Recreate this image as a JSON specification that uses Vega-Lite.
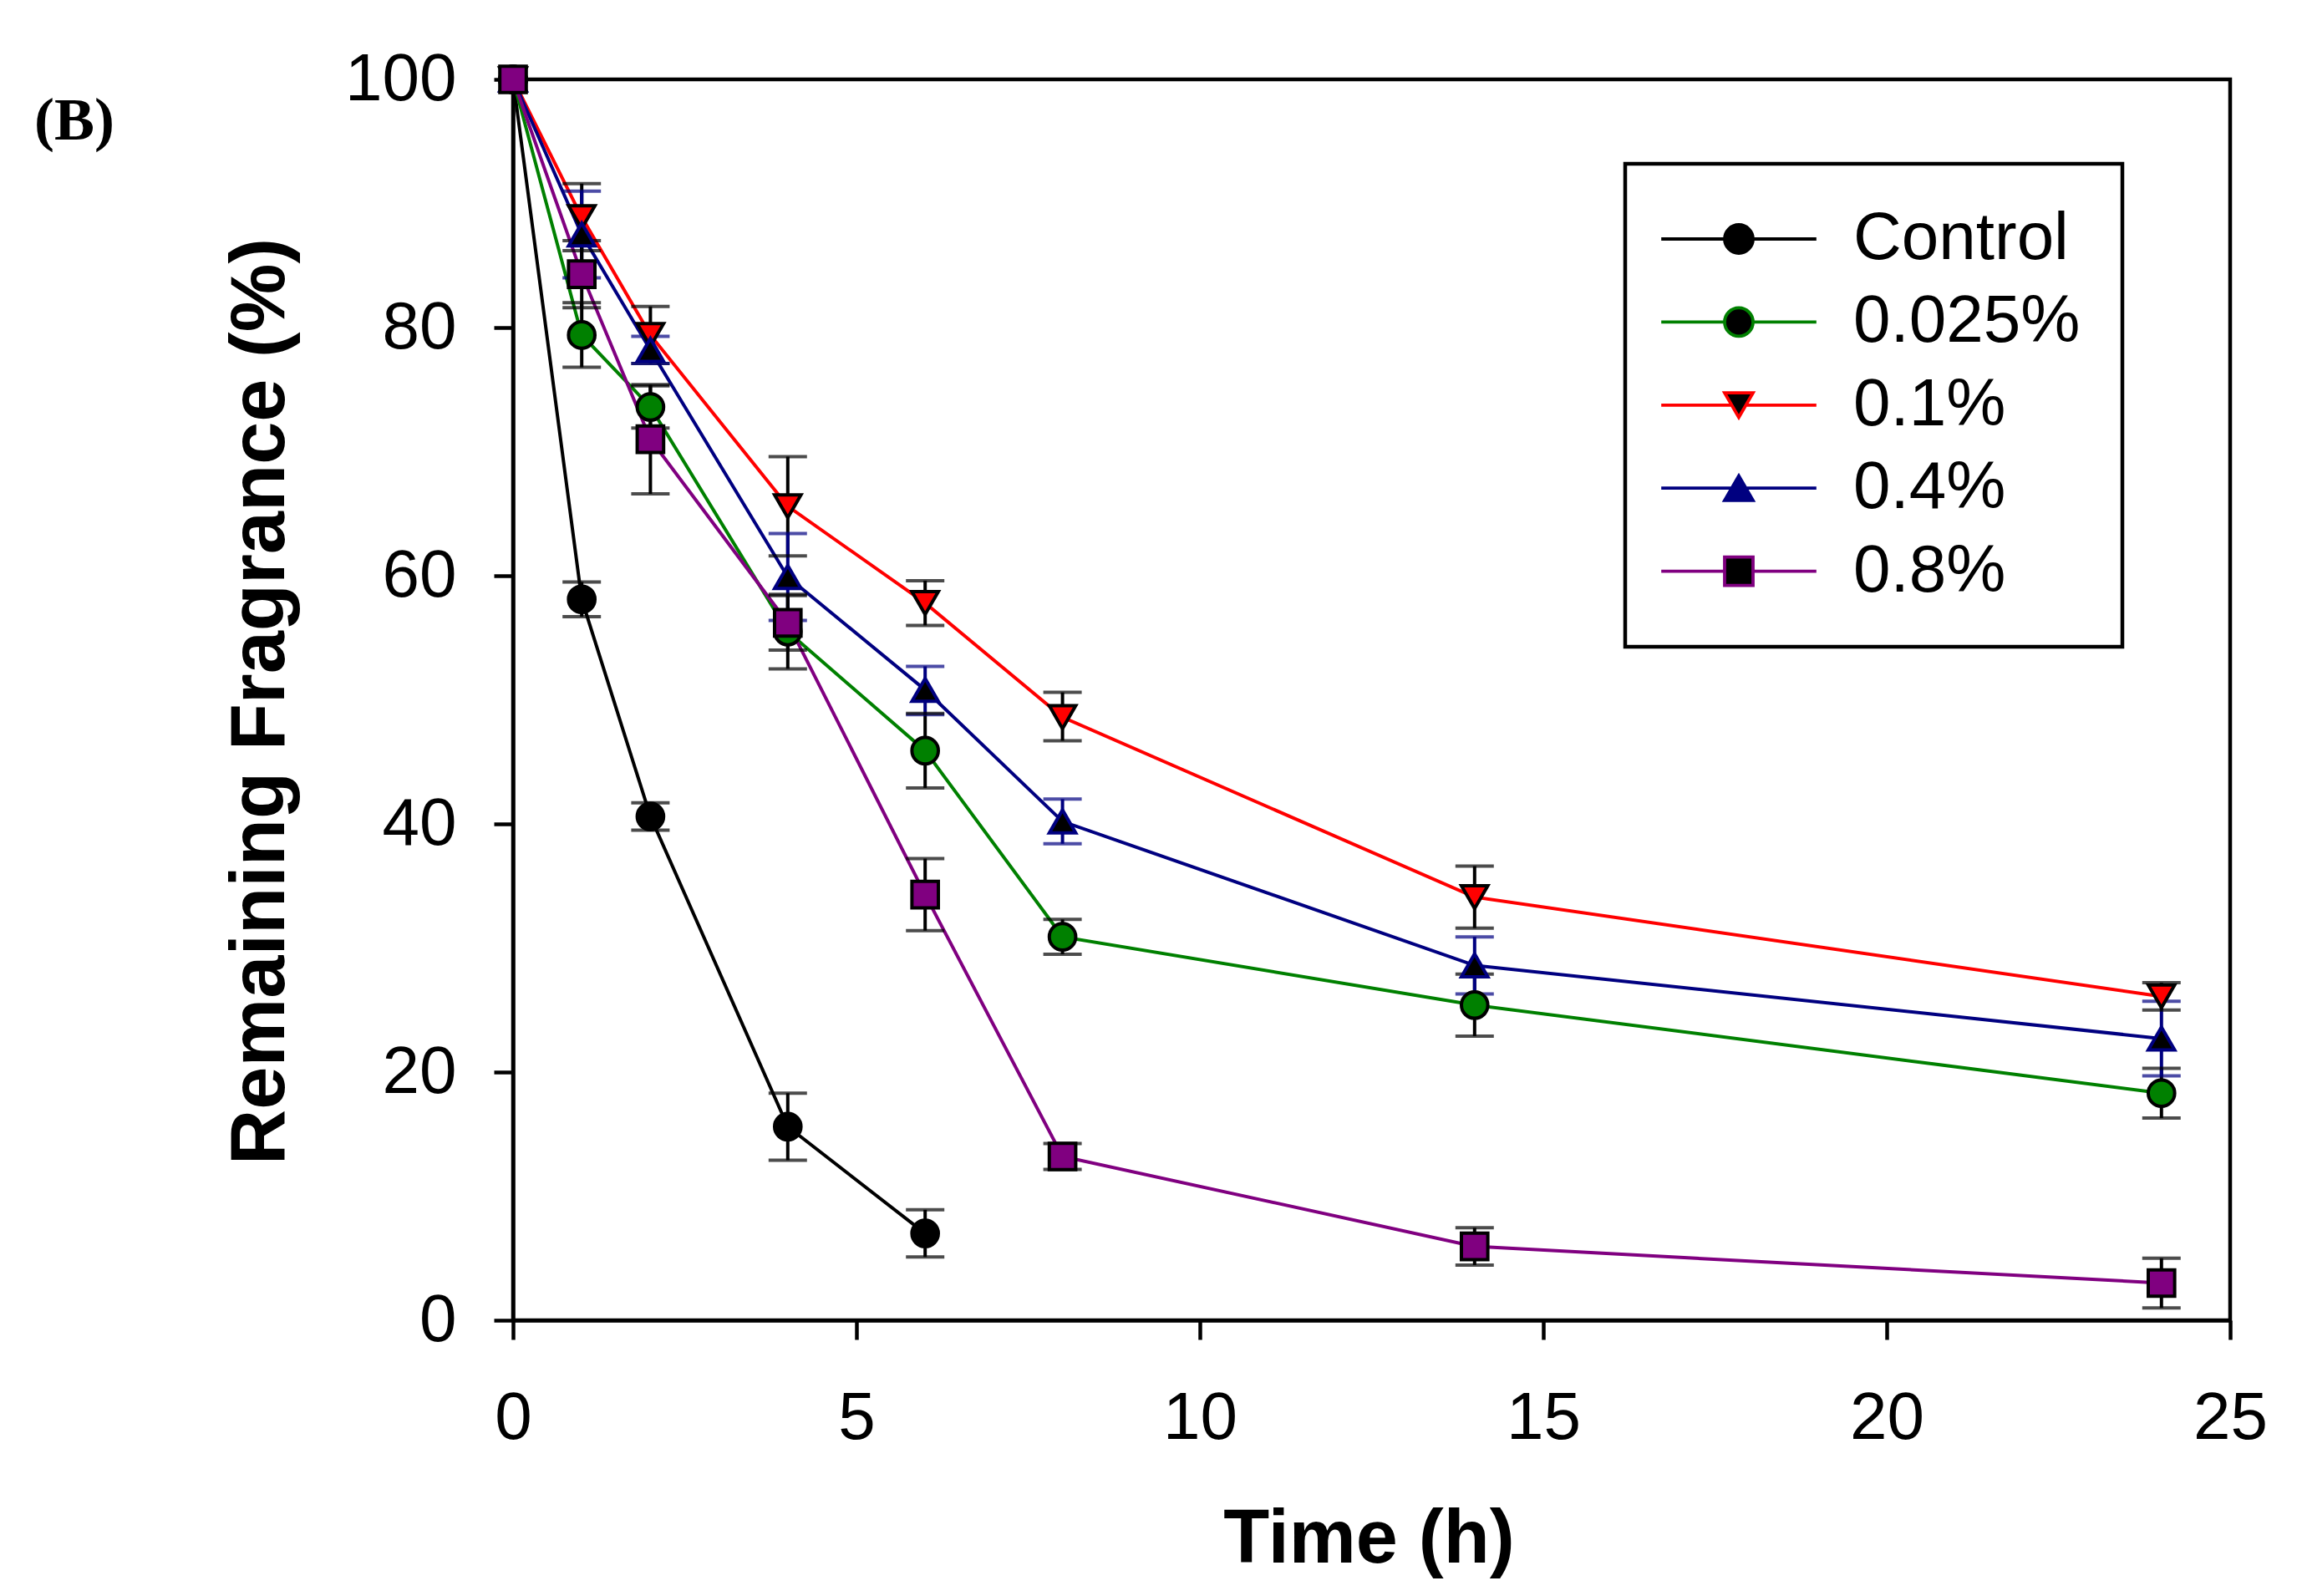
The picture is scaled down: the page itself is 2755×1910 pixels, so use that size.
{
  "$schema": "https://vega.github.io/schema/vega-lite/v6.json",
  "width": 2055,
  "height": 1485,
  "autosize": {"type": "none"},
  "padding": {"left": 614, "top": 95, "right": 86, "bottom": 330},
  "background": "white",
  "title": {"text": "(B)", "anchor": "start", "frame": "group", "font": "Liberation Serif", "fontSize": 72, "fontWeight": "bold", "color": "black", "dx": -573, "dy": 184, "offset": 0, "baseline": "alphabetic"},
  "config": {
    "view": {"stroke": "black", "strokeWidth": 4.5},
    "axis": {"grid": false, "domainColor": "black", "domainWidth": 4.5, "tickColor": "black", "tickWidth": 4.5, "tickSize": 23, "labelFont": "Liberation Sans", "labelFontSize": 80, "labelColor": "black", "labelFlush": false, "labelOverlap": false, "labelBound": false, "titleFont": "Liberation Sans", "titleFontWeight": "bold", "titleColor": "black"}
  },
  "data": {"values": [
    {"series": "Control", "t": 0, "mean": 100, "lo": 100, "hi": 100},
    {"series": "Control", "t": 1, "mean": 58.1, "lo": 56.7, "hi": 59.5},
    {"series": "Control", "t": 2, "mean": 40.6, "lo": 39.5, "hi": 41.7},
    {"series": "Control", "t": 4, "mean": 15.6, "lo": 12.9, "hi": 18.3},
    {"series": "Control", "t": 6, "mean": 7.0, "lo": 5.1, "hi": 8.9},
    {"series": "0.025%", "t": 0, "mean": 100, "lo": 100, "hi": 100},
    {"series": "0.025%", "t": 1, "mean": 79.4, "lo": 76.8, "hi": 82.0},
    {"series": "0.025%", "t": 2, "mean": 73.6, "lo": 71.9, "hi": 75.3},
    {"series": "0.025%", "t": 4, "mean": 55.5, "lo": 52.5, "hi": 58.5},
    {"series": "0.025%", "t": 6, "mean": 45.9, "lo": 42.9, "hi": 48.9},
    {"series": "0.025%", "t": 8, "mean": 30.9, "lo": 29.5, "hi": 32.3},
    {"series": "0.025%", "t": 14, "mean": 25.4, "lo": 22.9, "hi": 27.9},
    {"series": "0.025%", "t": 24, "mean": 18.3, "lo": 16.3, "hi": 20.3},
    {"series": "0.1%", "t": 0, "mean": 100, "lo": 100, "hi": 100},
    {"series": "0.1%", "t": 1, "mean": 88.9, "lo": 86.2, "hi": 91.6},
    {"series": "0.1%", "t": 2, "mean": 79.4, "lo": 77.1, "hi": 81.7},
    {"series": "0.1%", "t": 4, "mean": 65.6, "lo": 61.6, "hi": 69.6},
    {"series": "0.1%", "t": 6, "mean": 57.8, "lo": 56.0, "hi": 59.6},
    {"series": "0.1%", "t": 8, "mean": 48.6, "lo": 46.7, "hi": 50.6},
    {"series": "0.1%", "t": 14, "mean": 34.1, "lo": 31.6, "hi": 36.6},
    {"series": "0.1%", "t": 24, "mean": 26.1, "lo": 25.0, "hi": 27.2},
    {"series": "0.4%", "t": 0, "mean": 100, "lo": 100, "hi": 100},
    {"series": "0.4%", "t": 1, "mean": 87.5, "lo": 84.0, "hi": 91.0},
    {"series": "0.4%", "t": 2, "mean": 78.2, "lo": 77.1, "hi": 79.3},
    {"series": "0.4%", "t": 4, "mean": 59.9, "lo": 56.4, "hi": 63.4},
    {"series": "0.4%", "t": 6, "mean": 50.8, "lo": 48.8, "hi": 52.7},
    {"series": "0.4%", "t": 8, "mean": 40.2, "lo": 38.4, "hi": 42.0},
    {"series": "0.4%", "t": 14, "mean": 28.6, "lo": 26.3, "hi": 30.9},
    {"series": "0.4%", "t": 24, "mean": 22.7, "lo": 19.7, "hi": 25.7},
    {"series": "0.8%", "t": 0, "mean": 100, "lo": 100, "hi": 100},
    {"series": "0.8%", "t": 1, "mean": 84.3, "lo": 81.6, "hi": 87.0},
    {"series": "0.8%", "t": 2, "mean": 71.0, "lo": 66.6, "hi": 75.4},
    {"series": "0.8%", "t": 4, "mean": 56.2, "lo": 54.0, "hi": 58.4},
    {"series": "0.8%", "t": 6, "mean": 34.3, "lo": 31.4, "hi": 37.2},
    {"series": "0.8%", "t": 8, "mean": 13.2, "lo": 12.15, "hi": 14.25},
    {"series": "0.8%", "t": 14, "mean": 5.95, "lo": 4.45, "hi": 7.45},
    {"series": "0.8%", "t": 24, "mean": 3.0, "lo": 1.0, "hi": 5.0}
  ]},
  "encoding": {
    "x": {"field": "t", "type": "quantitative", "scale": {"domain": [0, 25], "nice": false, "zero": false},
      "axis": {"values": [0, 5, 10, 15, 20, 25], "title": "Time (h)", "titleFontSize": 90, "labelPadding": 55, "titleBaseline": "alphabetic", "titleX": 1024, "titleY": 289}}
  },
  "layer": [
    {
      "mark": {"type": "line", "strokeWidth": 4},
      "encoding": {
        "y": {"field": "mean", "type": "quantitative", "scale": {"domain": [0, 100], "nice": false},
          "axis": {"values": [0, 20, 40, 60, 80, 100], "title": "Remaining Fragrance (%)", "titleFontSize": 92, "labelPadding": 45, "titleBaseline": "alphabetic", "titleX": -275, "titleY": 744, "titleAngle": 270}},
        "stroke": {"field": "series", "type": "nominal",
          "scale": {"domain": ["Control", "0.025%", "0.1%", "0.4%", "0.8%"], "range": ["black", "#008000", "#ff0000", "#000080", "#800080"]},
          "legend": {"orient": "none", "legendX": 1331, "legendY": 101, "title": null, "symbolSize": 1156, "symbolStrokeWidth": 3.8, "padding": 50, "rowPadding": 19.4, "labelOffset": 97, "symbolOffset": 46, "labelFont": "Liberation Sans", "labelFontSize": 80, "labelColor": "black", "labelLimit": 0, "strokeColor": "black",
            "encode": {"legend": {"update": {"strokeWidth": {"value": 4.5}}},
              "symbols": {"update": {
                "shape": [
                  {"test": "datum.value === '0.1%'", "value": "M-5.46,0L-0.5,0M0.5,0L5.46,0M0,0.866L-1,-0.866L1,-0.866Z"},
                  {"test": "datum.value === '0.4%'", "value": "M-5.46,0L-0.5,0M0.5,0L5.46,0M0,-0.866L-1,0.866L1,0.866Z"},
                  {"test": "datum.value === '0.8%'", "value": "M-5.46,0L-1,0M1,0L5.46,0M-1,-1L1,-1L1,1L-1,1Z"},
                  {"value": "M-5.46,0L-1,0M1,0L5.46,0M1,0A1,1 0 1,1 -1,0A1,1 0 1,1 1,0Z"}
                ],
                "fill": [
                  {"test": "datum.value === '0.025%'", "value": "#008000"},
                  {"test": "datum.value === '0.1%'", "value": "#ff0000"},
                  {"test": "datum.value === '0.8%'", "value": "#800080"},
                  {"value": "black"}
                ]
              }}}}}
      }
    },
    {
      "transform": [{"filter": "datum.hi > datum.lo"}],
      "mark": {"type": "rule", "strokeWidth": 4},
      "encoding": {
        "y": {"field": "lo", "type": "quantitative"},
        "y2": {"field": "hi"},
        "color": {"field": "series", "type": "nominal", "scale": {"domain": ["Control", "0.025%", "0.1%", "0.4%", "0.8%"], "range": ["black", "black", "black", "#000080", "black"]}, "legend": null}
      }
    },
    {
      "transform": [{"filter": "datum.hi > datum.lo"}],
      "mark": {"type": "tick", "orient": "horizontal", "size": 46, "thickness": 4},
      "encoding": {
        "y": {"field": "lo", "type": "quantitative"},
        "color": {"field": "series", "type": "nominal", "legend": null}
      }
    },
    {
      "transform": [{"filter": "datum.hi > datum.lo"}],
      "mark": {"type": "tick", "orient": "horizontal", "size": 46, "thickness": 4},
      "encoding": {
        "y": {"field": "hi", "type": "quantitative"},
        "color": {"field": "series", "type": "nominal", "legend": null}
      }
    },
    {
      "mark": {"type": "point", "filled": false, "strokeWidth": 4, "opacity": 1},
      "encoding": {
        "y": {"field": "mean", "type": "quantitative"},
        "color": {"field": "series", "type": "nominal", "legend": null},
        "fill": {"field": "series", "type": "nominal", "scale": {"domain": ["Control", "0.025%", "0.1%", "0.4%", "0.8%"], "range": ["black", "#008000", "#ff0000", "black", "#800080"]}, "legend": null},
        "shape": {"field": "series", "type": "nominal", "sort": ["Control", "0.025%", "0.1%", "0.4%", "0.8%"], "scale": {"range": ["circle", "circle", "triangle-down", "triangle-up", "square"]}, "legend": null},
        "size": {"field": "series", "type": "nominal", "sort": ["Control", "0.025%", "0.1%", "0.4%", "0.8%"], "scale": {"range": [1000, 1000, 1350, 1350, 900]}, "legend": null}
      }
    }
  ]
}
